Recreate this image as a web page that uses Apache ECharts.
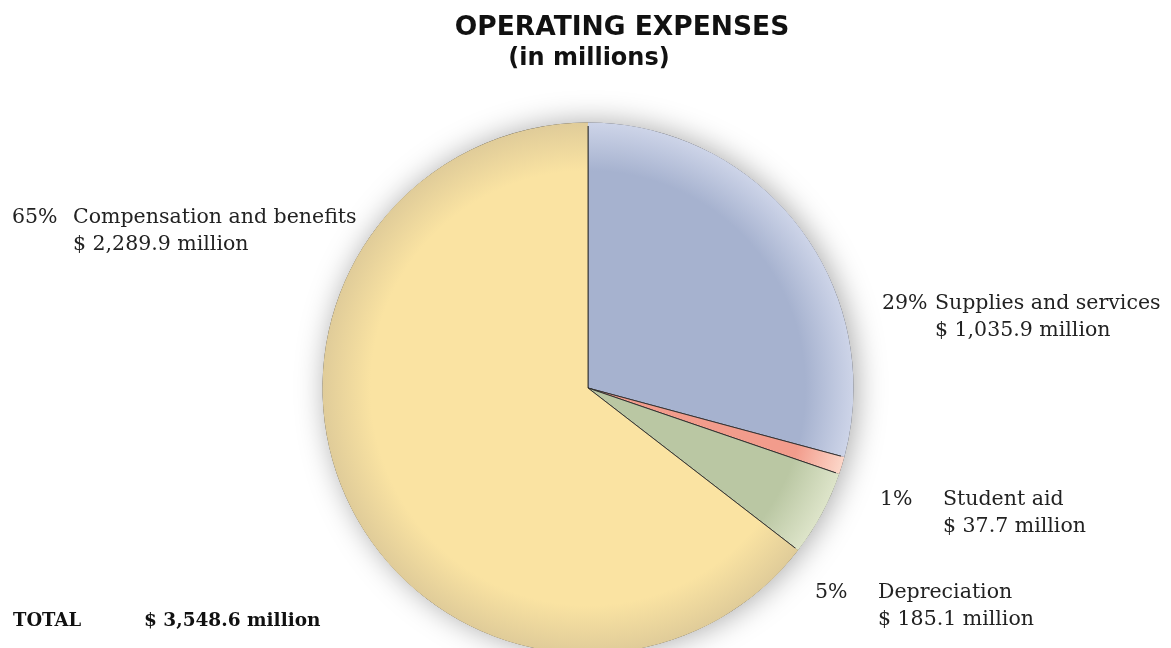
<!DOCTYPE html>
<html>
<head>
<meta charset="utf-8">
<script src="https://cdn.jsdelivr.net/npm/echarts@6/dist/echarts.min.js"></script>
<style>
  html, body { margin: 0; padding: 0; background: #fff; }
  #chart { width: 1171px; height: 648px; }
</style>
</head>
<body>
<div id="chart"></div>
<script>
// ---- data ----
const categories = ['Supplies and services', 'Student aid', 'Depreciation', 'Compensation and benefits'];
const values = [1035.9, 37.7, 185.1, 2289.9];
const percentLabels = ['29%', '1%', '5%', '65%'];
const titleLines = ['OPERATING EXPENSES', '(in millions)'];
const totalLabel = '$ 3,548.6 million';

// ---- styling / layout (not data) ----
const baseColors = ['#A6B2CF', '#F29C8C', '#BAC7A3', '#FAE3A2'];
const edgeColors = ['#CDD4E8', '#FCD6C8', '#DDE4C9', '#E0CC99'];
const labelPos = [
  { x: 882, y: 317, pw: 53 },
  { x: 880, y: 513, pw: 63 },
  { x: 815, y: 606, pw: 63 },
  { x: 12,  y: 231, pw: 61 }
];
const CX = 588, CY = 388, R = 265;

function fmt(v) {
  return v.toLocaleString('en-US', { minimumFractionDigits: 1, maximumFractionDigits: 1 });
}
function grad(i) {
  return {
    type: 'radial', x: CX, y: CY, r: R, global: true,
    colorStops: [
      { offset: 0, color: baseColors[i] },
      { offset: 0.82, color: baseColors[i] },
      { offset: 1, color: edgeColors[i] }
    ]
  };
}

const pieData = categories.map((name, i) => ({
  name: name,
  value: values[i],
  itemStyle: { color: grad(i) }
}));

const total = values.reduce((a, b) => a + b, 0);
const serifFont = '"DejaVu Serif", "Liberation Serif", serif';
const FS = 20.5;

const chart = echarts.init(document.getElementById('chart'), null, { renderer: 'canvas' });
chart.setOption({
  backgroundColor: '#ffffff',
  animation: false,
  graphic: [
    {
      type: 'text', x: 622, y: 28, silent: true,
      style: {
        text: titleLines[0], textAlign: 'center', textVerticalAlign: 'middle',
        fontFamily: '"DejaVu Sans", sans-serif', fontWeight: 'bold', fontSize: 26.5, fill: '#111'
      }
    },
    {
      type: 'text', x: 589, y: 59, silent: true,
      style: {
        text: titleLines[1], textAlign: 'center', textVerticalAlign: 'middle',
        fontFamily: '"DejaVu Sans", sans-serif', fontWeight: 'bold', fontSize: 24, fill: '#111'
      }
    }
  ],
  title: [
    {
      text: '{a|TOTAL}{b|' + totalLabel + '}',
      left: 8,
      top: 607,
      textStyle: {
        rich: {
          a: { fontFamily: serifFont, fontWeight: 'bold', fontSize: 18, color: '#111', width: 131 },
          b: { fontFamily: serifFont, fontWeight: 'bold', fontSize: 18.5, color: '#111' }
        }
      }
    }
  ],
  series: [
    {
      // shadow backdrop
      type: 'pie',
      center: [CX, CY],
      radius: R,
      silent: true,
      z: 1,
      label: { show: false },
      labelLine: { show: false },
      data: [{ value: total, itemStyle: { color: '#ffffff', shadowBlur: 30, shadowOffsetX: 3, shadowColor: 'rgba(0,0,0,0.35)' } }]
    },
    {
      type: 'pie',
      center: [CX, CY],
      radius: R,
      startAngle: 90,
      clockwise: true,
      z: 2,
      silent: true,
      avoidLabelOverlap: false,
      itemStyle: { borderColor: '#2a2a2a', borderWidth: 0.9 },
      data: pieData,
      labelLine: { show: false },
      label: {
        show: true,
        position: 'outside',
        color: '#222',
        fontFamily: serifFont,
        fontSize: FS,
        formatter: function (p) {
          const i = p.dataIndex;
          const pk = 'p' + i;
          return '{' + pk + '|' + percentLabels[i] + '}{n|' + p.name + '}\n{' + pk + '|}{n|$ ' + fmt(p.value) + ' million}';
        },
        rich: {
          p0: { width: labelPos[0].pw, fontFamily: serifFont, fontSize: FS, color: '#222', lineHeight: 27 },
          p1: { width: labelPos[1].pw, fontFamily: serifFont, fontSize: FS, color: '#222', lineHeight: 27 },
          p2: { width: labelPos[2].pw, fontFamily: serifFont, fontSize: FS, color: '#222', lineHeight: 27 },
          p3: { width: labelPos[3].pw, fontFamily: serifFont, fontSize: FS, color: '#222', lineHeight: 27 },
          n: { fontFamily: serifFont, fontSize: FS, color: '#222', lineHeight: 27 }
        }
      },
      labelLayout: function (params) {
        const lp = labelPos[params.dataIndex];
        return { x: lp.x, y: lp.y, align: 'left', verticalAlign: 'middle' };
      }
    },
    {
      // rim overlay to hide the dark outline on the outer arc
      type: 'pie',
      center: [CX, CY],
      radius: [R - 3, R + 0.5],
      startAngle: 90,
      clockwise: true,
      z: 3,
      silent: true,
      label: { show: false },
      labelLine: { show: false },
      data: categories.map((name, i) => ({ name: name, value: values[i], itemStyle: { color: grad(i) } }))
    }
  ]
});
</script>
</body>
</html>
